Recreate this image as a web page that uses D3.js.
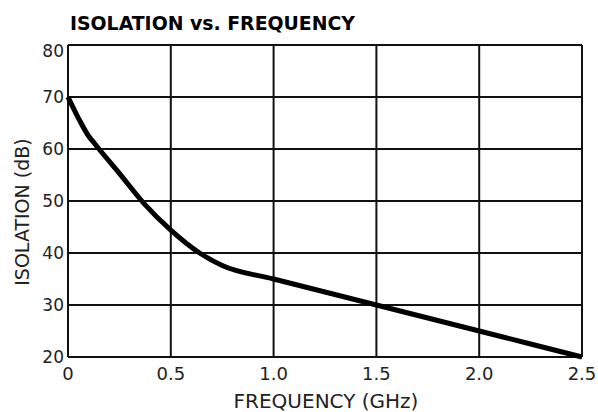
<!DOCTYPE html>
<html>
<head>
<meta charset="utf-8">
<script src="https://cdn.jsdelivr.net/npm/d3@7"></script>
<style>
  body { margin: 0; background: #fff; }
  svg { display: block; font-family: 'DejaVu Sans', sans-serif; }
</style>
</head>
<body>
<div id="chart"></div>
<script>
// values
const freq = [0, 0.05, 0.1, 0.13, 0.25, 0.37, 0.5, 0.64, 0.75, 1.0, 1.25, 1.5, 1.75, 2.0, 2.25, 2.5];
const isolation = [70, 66, 62.5, 61, 55.3, 49.5, 44.4, 40, 37.6, 35, 32.5, 30, 27.5, 25, 22.5, 20];
const xTicks = [0, 0.5, 1.0, 1.5, 2.0, 2.5];
const xTickLabels = ['0', '0.5', '1.0', '1.5', '2.0', '2.5'];
const yTicks = [20, 30, 40, 50, 60, 70, 80];

const width = 598;
const height = 412;
const margin = { top: 45, right: 16, bottom: 55, left: 68 };

const svg = d3.select('#chart')
  .append('svg')
  .attr('width', width)
  .attr('height', height);

const xScale = d3.scaleLinear().domain([0, 2.5]).range([margin.left, width - margin.right]);
const yScale = d3.scaleLinear().domain([20, 80]).range([height - margin.bottom, margin.top]);

// gridlines
svg.append('g')
  .selectAll('line')
  .data(xTicks)
  .join('line')
  .attr('x1', (d) => xScale(d))
  .attr('x2', (d) => xScale(d))
  .attr('y1', yScale(20))
  .attr('y2', yScale(80))
  .attr('stroke', '#111')
  .attr('stroke-width', 2);

svg.append('g')
  .selectAll('line')
  .data(yTicks)
  .join('line')
  .attr('x1', xScale(0))
  .attr('x2', xScale(2.5))
  .attr('y1', (d) => yScale(d))
  .attr('y2', (d) => yScale(d))
  .attr('stroke', '#111')
  .attr('stroke-width', 2);

// tick labels (top one is pushed down to sit inside the frame)
svg.append('g')
  .selectAll('text')
  .data(yTicks)
  .join('text')
  .attr('x', xScale(0) - 4)
  .attr('y', (d) => Math.max(yScale(d), margin.top + 6) + 6)
  .attr('text-anchor', 'end')
  .attr('font-size', 17)
  .attr('fill', '#222')
  .text((d) => d);

svg.append('g')
  .selectAll('text')
  .data(xTicks)
  .join('text')
  .attr('x', (d) => xScale(d))
  .attr('y', yScale(20) + 23)
  .attr('text-anchor', 'middle')
  .attr('font-size', 18)
  .attr('fill', '#222')
  .text((d, i) => xTickLabels[i]);

// curve
const line = d3.line()
  .x((d, i) => xScale(freq[i]))
  .y((d) => yScale(d))
  .curve(d3.curveMonotoneX);

svg.append('path')
  .datum(isolation)
  .attr('d', line)
  .attr('fill', 'none')
  .attr('stroke', '#000')
  .attr('stroke-width', 5)
  .attr('stroke-linejoin', 'round');

// title and axis titles
svg.append('text')
  .attr('x', 70)
  .attr('y', 30)
  .attr('font-size', 20)
  .attr('font-weight', 'bold')
  .attr('textLength', 285)
  .attr('lengthAdjust', 'spacingAndGlyphs')
  .text('ISOLATION vs. FREQUENCY');

svg.append('text')
  .attr('x', 326)
  .attr('y', 408)
  .attr('text-anchor', 'middle')
  .attr('font-size', 20)
  .attr('fill', '#222')
  .text('FREQUENCY (GHz)');

svg.append('text')
  .attr('transform', `translate(29, 212) rotate(-90)`)
  .attr('text-anchor', 'middle')
  .attr('font-size', 19)
  .attr('fill', '#222')
  .text('ISOLATION (dB)');
</script>
</body>
</html>
